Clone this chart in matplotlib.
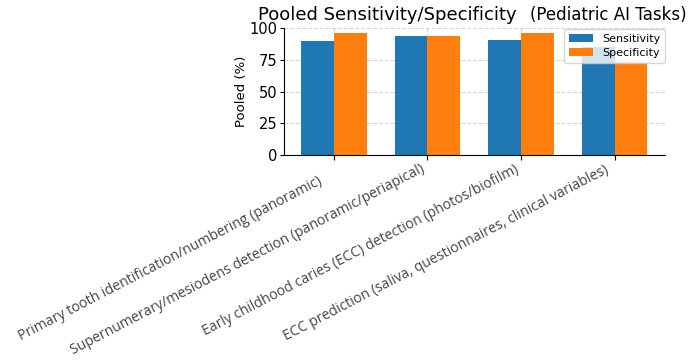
import numpy as np
import matplotlib.pyplot as plt
import matplotlib.transforms as mtransforms

tasks = [
    "Primary tooth identification/numbering (panoramic)",
    "Supernumerary/mesiodens detection (panoramic/periapical)",
    "Early childhood caries (ECC) detection (photos/biofilm)",
    "ECC prediction (saliva, questionnaires, clinical variables)",
]
sensitivity = [90, 94, 91, 85]
specificity = [96, 94, 96, 73]

x = np.arange(len(tasks))
w = 0.35

fig = plt.figure(figsize=(6.99, 3.6), dpi=100)
ax = fig.add_axes([0.406, 0.569, 0.545, 0.353])

ax.bar(x - w / 2, sensitivity, w, label="Sensitivity", color="#1f77b4", zorder=2)
ax.bar(x + w / 2, specificity, w, label="Specificity", color="#ff7f0e", zorder=2)

ax.set_ylim(0, 100)
ax.set_yticks([0, 25, 50, 75, 100])
ax.set_xticks(x)
ax.set_xticklabels(tasks, rotation=27.5, ha="right",
                   fontsize=10.1, color="#444444", family="Open Sans")
# small nudges (pixels) so the slanted labels sit like the reference
nudges = [(-9, -9), (0, 3), (0, 3), (-4, 2)]
for lbl, (dx, dy) in zip(ax.get_xticklabels(), nudges):
    shift = mtransforms.ScaledTranslation(dx / 100, dy / 100, fig.dpi_scale_trans)
    lbl.set_transform(lbl.get_transform() + shift)
ax.tick_params(axis="y", labelsize=10.5, pad=1.5, length=3)
ax.set_ylabel("Pooled (%)", fontsize=9.5, labelpad=1)
ax.grid(True, linestyle="--", alpha=0.5, zorder=0)
ax.spines["top"].set_visible(False)
ax.spines["right"].set_visible(False)
ax.legend(loc="upper right", fontsize=8, framealpha=0.8,
          bbox_to_anchor=(1.0, 0.99), borderaxespad=0.0, borderpad=0.4,
          labelspacing=0.4, handlelength=2.2)

fig.text(0.369, 0.958, "Pooled Sensitivity/Specificity", fontsize=13,
         ha="left", va="center")
fig.text(0.758, 0.958, "(Pediatric AI Tasks)", fontsize=12,
         ha="left", va="center")

fig.savefig("out.png", dpi=100)
